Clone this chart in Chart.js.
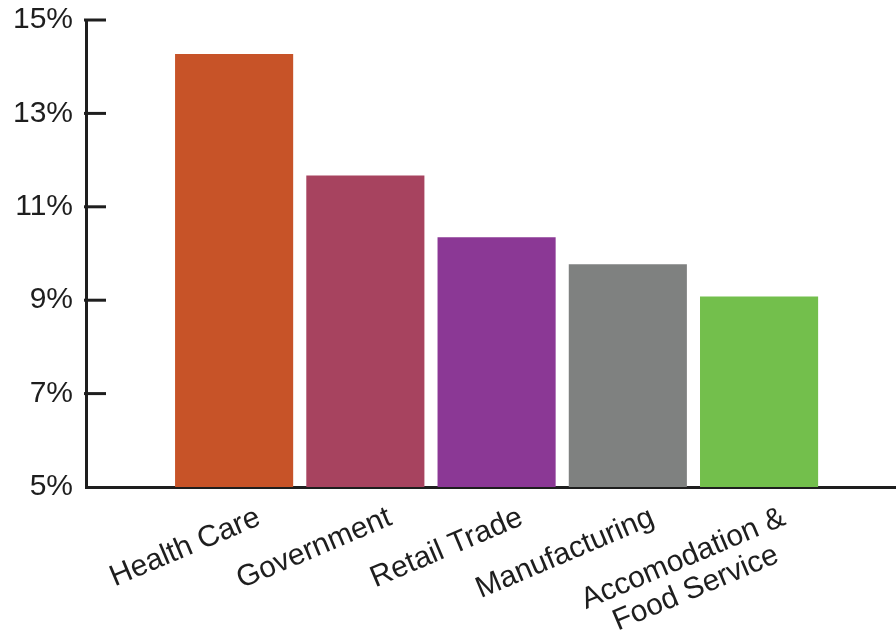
<!DOCTYPE html>
<html>
<head>
<meta charset="utf-8">
<script src="https://cdn.jsdelivr.net/npm/chart.js@4.4.1/dist/chart.umd.min.js"></script>
<style>
  html, body { margin: 0; padding: 0; background: #fff; }
  #wrap { width: 896px; height: 637px; position: relative; }
</style>
</head>
<body>
<div id="wrap"><canvas id="chart"></canvas></div>
<script>
const categories = ["Health Care", "Government", "Retail Trade", "Manufacturing", ["Accomodation &", "Food Service"]];
const shares = [14.27, 11.67, 10.35, 9.77, 9.08];
const barColors = ["#c75328", "#a7435f", "#8b3895", "#7f8180", "#73bf4c"];
const yTicks = [5, 7, 9, 11, 13, 15];

const FONT = "'Liberation Sans', Arial, sans-serif";
const INK = "#1e1e1e";
Chart.defaults.font.family = FONT;

// short tick marks pointing into the plot, like the original
const innerTicks = {
  id: "innerTicks",
  afterDraw(chart) {
    const y = chart.scales.y;
    const ctx = chart.ctx;
    const x0 = chart.chartArea.left;
    ctx.save();
    ctx.strokeStyle = INK;
    ctx.lineWidth = 3;
    y.ticks.forEach(t => {
      if (t.value === y.min) return;
      const py = y.getPixelForValue(t.value);
      ctx.beginPath();
      ctx.moveTo(x0 - 2, py);
      ctx.lineTo(x0 + 20, py);
      ctx.stroke();
    });
    ctx.restore();
  }
};

// slanted category labels, multi-line ones centred on each other
const slantLabels = {
  id: "slantLabels",
  afterDraw(chart) {
    const xs = chart.scales.x;
    const base = chart.chartArea.bottom;
    const ctx = chart.ctx;
    ctx.save();
    ctx.font = "30px " + FONT;
    ctx.fillStyle = INK;
    ctx.textBaseline = "alphabetic";
    ctx.textAlign = "center";
    categories.forEach((label, i) => {
      const lines = Array.isArray(label) ? label : [label];
      const w = Math.max(...lines.map(l => ctx.measureText(l).width));
      const px = xs.getPixelForValue(i + 1);
      ctx.save();
      ctx.translate(px + 28, base + 37);
      ctx.rotate(-23 * Math.PI / 180);
      lines.forEach((l, j) => ctx.fillText(l, -w / 2, j * 32));
      ctx.restore();
    });
    ctx.restore();
  }
};

new Chart(document.getElementById("chart"), {
  type: "bar",
  data: {
    datasets: [{
      data: shares.map((v, i) => ({ x: i + 1, y: v })),
      backgroundColor: barColors,
      categoryPercentage: 1,
      barPercentage: 0.9
    }]
  },
  options: {
    responsive: true,
    maintainAspectRatio: false,
    animation: false,
    layout: { padding: { top: 20, left: 0, right: 0, bottom: 0 } },
    plugins: {
      legend: { display: false },
      tooltip: { enabled: false }
    },
    scales: {
      x: {
        type: "linear",
        offset: false,
        min: -0.1286,
        max: 6.0434,
        grid: { drawOnChartArea: false, drawTicks: false },
        border: { display: true, color: INK, width: 3 },
        ticks: { display: false },
        afterFit: s => { s.height = 150; s.paddingLeft = 0; s.paddingRight = 0; }
      },
      y: {
        min: 5,
        max: 15,
        grid: { drawOnChartArea: false, drawTicks: false },
        border: { display: true, color: INK, width: 3 },
        afterBuildTicks: s => { s.ticks = yTicks.map(v => ({ value: v })); },
        afterFit: s => { s.width = 86; s.paddingTop = 0; s.paddingBottom = 0; },
        ticks: {
          padding: 13,
          color: INK,
          font: { size: 30 },
          callback: v => v + "%"
        }
      }
    }
  },
  plugins: [innerTicks, slantLabels]
});
</script>
</body>
</html>
